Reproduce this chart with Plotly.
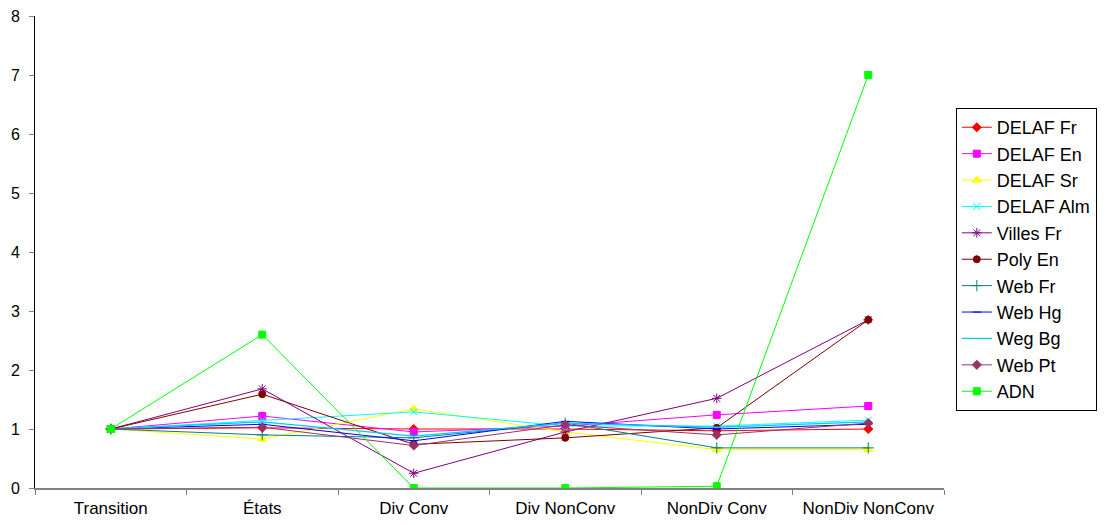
import plotly.graph_objects as go

categories = ["Transition", "États", "Div Conv", "Div NonConv", "NonDiv Conv", "NonDiv NonConv"]

delaf_fr = [1, 1.02, 1.0, 1.0, 0.97, 1.0]
delaf_en = [1, 1.22, 0.95, 1.05, 1.24, 1.39]
delaf_sr = [1, 0.83, 1.34, 0.95, 0.65, 0.65]
delaf_alm = [1, 1.15, 1.29, 1.05, 1.05, 1.15]
villes_fr = [1, 1.68, 0.25, 0.95, 1.52, 2.85]
poly_en = [1, 1.59, 0.74, 0.85, 1.02, 2.85]
web_fr = [1, 0.9, 0.85, 1.1, 0.68, 0.68]
web_hg = [1, 1.08, 0.8, 1.13, 1.0, 1.08]
weg_bg = [1, 1.12, 0.88, 1.1, 1.03, 1.12]
web_pt = [1, 1.03, 0.72, 1.07, 0.9, 1.1]
adn = [1, 2.6, 0, 0, 0.03, 7.0]

series = [
    ("DELAF Fr", delaf_fr, "#FF0000", "diamond", 7),
    ("DELAF En", delaf_en, "#FF00FF", "square", 7),
    ("DELAF Sr", delaf_sr, "#FFFF00", "triangle-up", 8),
    ("DELAF Alm", delaf_alm, "#00FFFF", "x-thin-open", 7),
    ("Villes Fr", villes_fr, "#800080", "asterisk-open", 8),
    ("Poly En", poly_en, "#800000", "circle", 7),
    ("Web Fr", web_fr, "#008080", "cross-thin-open", 8),
    ("Web Hg", web_hg, "#0000FF", "line-ew-open", 6),
    ("Weg Bg", weg_bg, "#00CCFF", None, 0),
    ("Web Pt", web_pt, "#993366", "diamond", 7),
    ("ADN", adn, "#00FF00", "square", 7),
]

fig = go.Figure()
for name, vals, color, sym, size in series:
    if sym is None:
        fig.add_trace(go.Scatter(x=categories, y=vals, name=name, mode="lines",
                                 line=dict(color=color, width=1.3)))
    else:
        fig.add_trace(go.Scatter(x=categories, y=vals, name=name, mode="lines+markers",
                                 line=dict(color=color, width=1),
                                 marker=dict(symbol=sym, size=size, color=color,
                                             line=dict(color=color, width=1))))

fig.update_layout(
    width=1113, height=525,
    margin=dict(l=27, r=177, t=8, b=45),
    paper_bgcolor="white", plot_bgcolor="white",
    font=dict(family="Liberation Sans, Arial, sans-serif", size=17, color="black"),
    xaxis=dict(type="category", range=[-0.5, 5.5], showgrid=False,
               showline=True, linecolor="#808080", linewidth=2,
               ticks="outside", tickson="boundaries", ticklen=5, tickcolor="#808080",
               tickfont=dict(size=17), ticklabelstandoff=4, zeroline=False,
               automargin=False),
    yaxis=dict(range=[0, 8], dtick=1, showgrid=False, showline=True,
               linecolor="black", linewidth=1, ticks="outside", ticklen=5,
               tickcolor="#808080", tickfont=dict(size=16), ticklabelstandoff=6,
               ticklabeloverflow="allow", zeroline=False, automargin=False),
    legend=dict(x=1.013, y=0.805, xanchor="left", yanchor="top",
                bordercolor="black", borderwidth=1, bgcolor="white",
                font=dict(size=18), tracegroupgap=0, itemwidth=30),
    showlegend=True,
)

fig.write_html("out.html")
